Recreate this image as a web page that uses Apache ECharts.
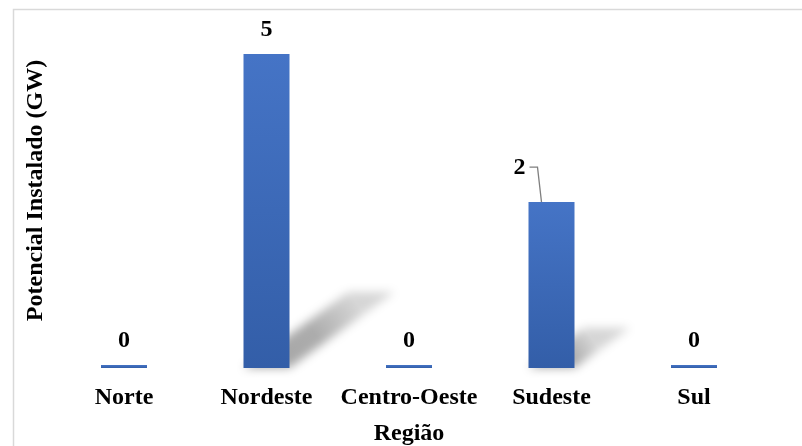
<!DOCTYPE html>
<html>
<head>
<meta charset="utf-8">
<script src="https://cdn.jsdelivr.net/npm/echarts@6/dist/echarts.min.js"></script>
<style>
  html, body { margin: 0; padding: 0; background: #ffffff; }
  #chart { width: 802px; height: 446px; }
</style>
</head>
<body>
<div id="chart"></div>
<script>
// Installed capacity by Brazilian region (GW)
const categories = ['Norte', 'Nordeste', 'Centro-Oeste', 'Sudeste', 'Sul'];
const installedGW = [0, 4.6, 0, 2.43, 0];
const xTitle = 'Região';
const yTitle = 'Potencial Instalado (GW)';

const FONT = "'Liberation Serif', 'Times New Roman', serif";
const BAR_W = 46;
const SHIFT = 3000; // shadow shapes are drawn off-canvas; only their blurred shadow lands in view
const CALLOUT_INDEX = 3; // bar whose value label is pulled aside with a leader line

const chart = echarts.init(document.getElementById('chart'), null, { renderer: 'canvas' });

// Perspective "floor" shadow cast by each bar toward the upper right,
// plus the elbow leader line of the pulled-aside label
function renderShadow(params, api) {
  const idx = api.value(0);
  const val = api.value(1);
  const base = api.coord([idx, 0]);
  const top = api.coord([idx, val]);
  const h = base[1] - top[1];
  if (h < 2) return null;
  const xl = base[0] - BAR_W / 2 - SHIFT;
  const xr = base[0] + BAR_W / 2 - SHIFT;
  const y0 = base[1];
  const dx = h * 0.334;
  const dy = h * 0.242;
  const children = [{
    type: 'polygon',
    silent: true,
    shape: { points: [[xl, y0], [xr, y0], [xr + dx, y0 - dy], [xl + dx, y0 - dy]] },
    style: {
      fill: new echarts.graphic.LinearGradient(xl, y0, xl + dx, y0 - dy, [
        { offset: 0, color: 'rgba(0,0,0,1)' },
        { offset: 0.6, color: 'rgba(0,0,0,0.9)' },
        { offset: 1, color: 'rgba(0,0,0,0.45)' }
      ], true),
      shadowColor: 'rgba(0,0,0,0.36)',
      shadowBlur: 10,
      shadowOffsetX: SHIFT,
      shadowOffsetY: 0
    }
  }];
  if (idx === CALLOUT_INDEX) {
    const cx = top[0], ty = top[1];
    children.push({
      type: 'polyline',
      silent: true,
      shape: { points: [[cx - 22, ty - 35], [cx - 14, ty - 35], [cx - 10, ty]] },
      style: { fill: 'none', stroke: '#7f7f7f', lineWidth: 1.3 }
    });
  }
  return { type: 'group', children };
}

chart.setOption({
  animation: false,
  backgroundColor: '#ffffff',
  graphic: [{
    type: 'rect',
    left: 11, top: 7,
    shape: { width: 1000, height: 600 },
    style: { fill: 'none', stroke: '#d9d9d9', lineWidth: 1.5 },
    silent: true,
    z: -10
  }],
  grid: {
    left: 52.75, right: 36.75, top: 13, bottom: 78,
    containLabel: false,
    outerBoundsMode: 'none'
  },
  xAxis: {
    type: 'category',
    data: categories,
    axisLine: { show: false },
    axisTick: { show: false },
    axisLabel: { interval: 0, color: '#000', fontFamily: FONT, fontWeight: 'bold', fontSize: 24, margin: 18 },
    name: xTitle,
    nameLocation: 'middle',
    nameGap: 54,
    nameTextStyle: { color: '#000', fontFamily: FONT, fontWeight: 'bold', fontSize: 24 }
  },
  yAxis: {
    type: 'value',
    min: 0, max: 5.2,
    axisLine: { show: false },
    axisTick: { show: false },
    axisLabel: { show: false },
    splitLine: { show: false },
    name: yTitle,
    nameLocation: 'middle',
    nameGap: 5,
    nameTextStyle: { color: '#000', fontFamily: FONT, fontWeight: 'bold', fontSize: 24 }
  },
  series: [
    {
      type: 'custom',
      renderItem: renderShadow,
      data: installedGW.map((v, i) => [i, v]),
      encode: { x: 0, y: 1 },
      silent: true,
      z: 1
    },
    {
      type: 'bar',
      data: installedGW,
      barWidth: BAR_W,
      barMinHeight: 3,
      z: 2,
      itemStyle: {
        color: new echarts.graphic.LinearGradient(0, 0, 0, 1, [
          { offset: 0, color: '#4574c6' },
          { offset: 1, color: '#335ea8' }
        ])
      },
      label: {
        show: true,
        position: 'top',
        distance: 12,
        color: '#000',
        fontFamily: FONT,
        fontWeight: 'bold',
        fontSize: 24,
        formatter: p => String(Math.round(p.value))
      },
      labelLayout: p => (p.dataIndex === CALLOUT_INDEX ? { dx: -32, dy: -10 } : {})
    }
  ]
});
</script>
</body>
</html>
